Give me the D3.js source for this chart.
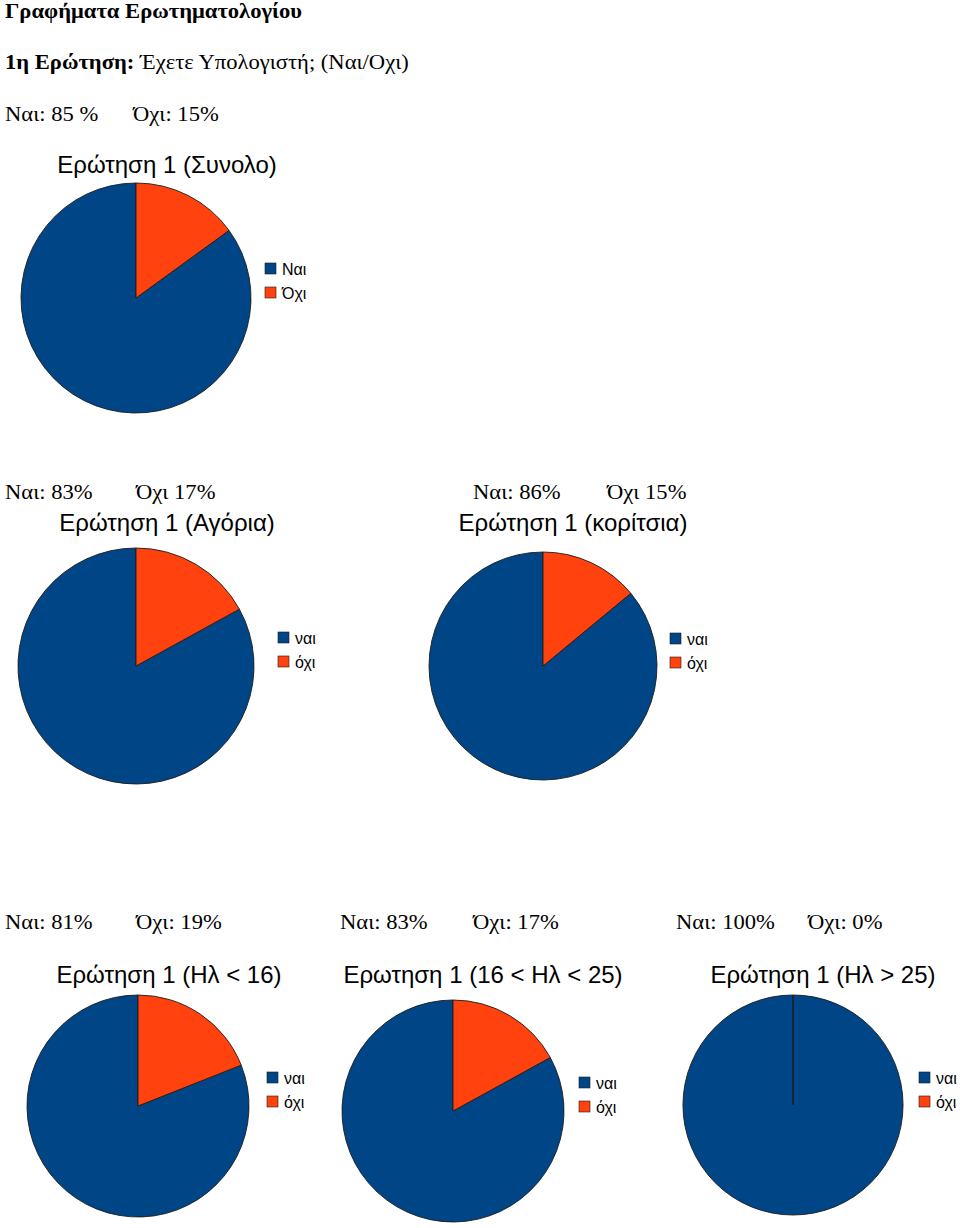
<!DOCTYPE html>
<html>
<head>
<meta charset="utf-8">
<script src="https://cdn.jsdelivr.net/npm/d3@7"></script>
<style>
  body { margin: 0; background: #fff; }
  .serif { font-family: "Liberation Serif", "Times New Roman", serif; font-size: 20px; fill: #000; }
  .ctitle { font-family: "Liberation Sans", Arial, sans-serif; font-size: 24px; fill: #000; }
  .legend text { font-family: "Liberation Sans", Arial, sans-serif; font-size: 16px; fill: #000; }
</style>
</head>
<body>
<div id="chart-area"></div>
<script>
// page size
let width = 960,
	height = 1228;

// data
let chartTitles = [
	"Ερώτηση 1 (Συνολο)",
	"Ερώτηση 1 (Αγόρια)",
	"Ερώτηση 1 (κορίτσια)",
	"Ερώτηση 1 (Ηλ < 16)",
	"Ερωτηση 1 (16 < Ηλ < 25)",
	"Ερώτηση 1 (Ηλ > 25)"
];
let yesValues = [85, 83, 86, 81, 83, 100];
let noValues = [15, 17, 14, 19, 17, 0];
let legendLabels = [
	["Ναι", "Όχι"],
	["ναι", "όχι"],
	["ναι", "όχι"],
	["ναι", "όχι"],
	["ναι", "όχι"],
	["ναι", "όχι"]
];
let yesLabels = ["Ναι: 85 %", "Ναι: 83%", "Ναι: 86%", "Ναι: 81%", "Ναι: 83%", "Ναι: 100%"];
let noLabels = ["Όχι: 15%", "Όχι 17%", "Όχι 15%", "Όχι: 19%", "Όχι: 17%", "Όχι: 0%"];

// where each chart sits on the page
let layout = [
	{cx: 136, cy: 298, r: 115, tx: 167, ty: 173, lx: 265, ly: 263, sy: 121, sx: 5, nx: 133},
	{cx: 136, cy: 666, r: 118, tx: 167, ty: 531, lx: 278, ly: 632, sy: 499, sx: 5, nx: 136},
	{cx: 543, cy: 666, r: 114, tx: 573, ty: 531, lx: 670, ly: 633, sy: 499, sx: 473, nx: 607},
	{cx: 138, cy: 1106, r: 111, tx: 169, ty: 983, lx: 267, ly: 1072, sy: 929, sx: 5, nx: 136},
	{cx: 453, cy: 1111, r: 111, tx: 483, ty: 983, lx: 579, ly: 1077, sy: 929, sx: 340, nx: 473},
	{cx: 793, cy: 1105, r: 110, tx: 823, ty: 983, lx: 919, ly: 1072, sy: 929, sx: 676, nx: 808}
];

// the serif text in the picture is a bit wider than Liberation Serif
let stretch = 1.13;

let colorScale = d3.scaleOrdinal().domain(["yes", "no"]).range(["#004586", "#ff420e"]);

let svg = d3.select("#chart-area").append("svg").attr("width", width).attr("height", height);

function serifText(x, y) {
	return svg.append("text")
		.attr("class", "serif")
		.attr("transform", "translate(" + x + "," + y + ") scale(" + stretch + ",1)");
}

// page headings
serifText(5, 18)
	.style("font-weight", "bold")
	.text("Γραφήματα Ερωτηματολογίου");

let q = serifText(5, 69);
q.append("tspan").style("font-weight", "bold").text("1η Ερώτηση:");
q.append("tspan").text(" Έχετε Υπολογιστή; (Ναι/Οχι)");

let pie = d3.pie().sort(null).value(d => d.value);

chartTitles.forEach((title, i) => {
	let L = layout[i];
	let data = [
		{key: "no", value: noValues[i]},
		{key: "yes", value: yesValues[i]}
	];

	// summary line
	serifText(L.sx, L.sy).text(yesLabels[i]);
	serifText(L.nx, L.sy).text(noLabels[i]);

	// chart title
	svg.append("text")
		.attr("class", "ctitle")
		.attr("x", L.tx)
		.attr("y", L.ty)
		.attr("text-anchor", "middle")
		.text(title);

	let arc = d3.arc().innerRadius(0).outerRadius(L.r);

	let g = svg.append("g").attr("transform", "translate(" + L.cx + "," + L.cy + ")");

	// draw the big slice first so the thin edges stay on top
	g.selectAll("path")
		.data(pie(data).reverse())
		.enter()
		.append("path")
		.attr("d", arc)
		.attr("fill", d => colorScale(d.data.key))
		.attr("stroke", "#1c1c1c")
		.attr("stroke-width", 0.9)
		.attr("stroke-linejoin", "round");

	// legend
	let leg = svg.append("g").attr("class", "legend").attr("transform", "translate(" + L.lx + "," + L.ly + ")");
	["yes", "no"].forEach((k, j) => {
		leg.append("rect")
			.attr("x", 0)
			.attr("y", j * 24)
			.attr("width", 11)
			.attr("height", 11)
			.attr("fill", colorScale(k))
			.attr("stroke", "#1c1c1c")
			.attr("stroke-width", 0.6);
		leg.append("text")
			.attr("x", 17)
			.attr("y", j * 24 + 12)
			.text(legendLabels[i][j]);
	});
});
</script>
</body>
</html>
